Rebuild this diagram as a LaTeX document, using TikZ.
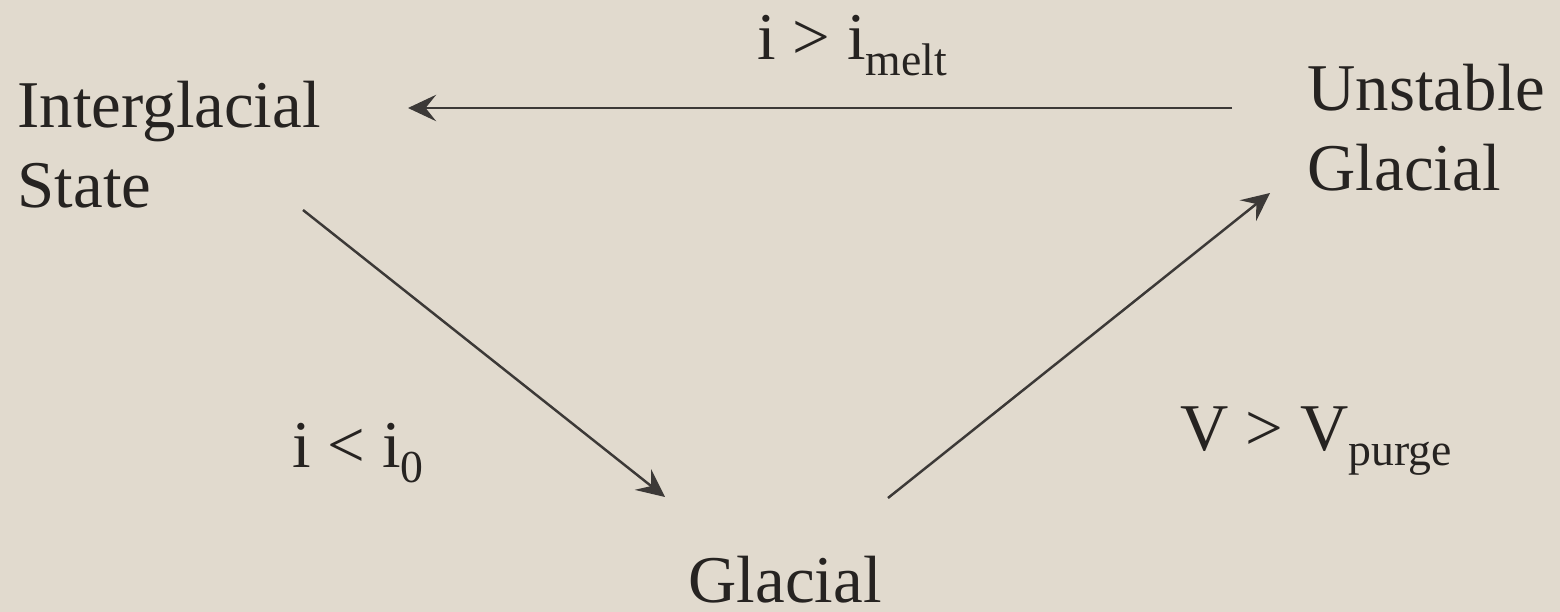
\documentclass[tikz,border=0pt]{standalone}
\usepackage{fontspec}
\setmainfont{Liberation Serif}
\usetikzlibrary{arrows.meta}
\definecolor{Paper}{RGB}{225,218,206}
\definecolor{Ink}{RGB}{38,35,33}
\newcommand{\lowsub}[1]{\raisebox{-4.4pt}{\fontsize{13}{15}\selectfont #1}}

\begin{document}
\begin{tikzpicture}[x=0.01cm, y=-0.01cm,
	state/.style={inner sep=0pt, align=left, font=\fontsize{19}{22.6}\selectfont, text=Ink},
	cond/.style={inner sep=0pt, font=\fontsize{19}{22.6}\selectfont, text=Ink},
	link/.style={draw=Ink!90, line width=0.7pt, -{Stealth[length=8pt, width=7.5pt, inset=3pt]}}]
	\fill[Paper] (0,0) rectangle (1560,612);
	\useasboundingbox (0,0) rectangle (1560,612);
	% states
	\node[state, anchor=base west] (inter) at (17,207) {Interglacial\\State};
	\node[state, anchor=base west] (unst) at (1307,190) {Unstable\\Glacial};
	\node[state, anchor=base west] (glac) at (688,602) {Glacial};
	% arrow ends
	\coordinate (interR) at (408,108);
	\coordinate (unstL) at (1232,108);
	\coordinate (interB) at (303,210);
	\coordinate (glacL) at (665,497);
	\coordinate (glacR) at (888,498);
	\coordinate (unstB) at (1270,193);
	\draw[link] (unstL) -- (interR);
	\draw[link] (interB) -- (glacL);
	\draw[link] (glacR) -- (unstB);
	% conditions
	\node[cond, anchor=base west] (melt) at (757,60) {i > i\lowsub{melt}};
	\node[cond, anchor=base west] (zero) at (292,467) {i < i\lowsub{0}};
	\node[cond, anchor=base west] (purge) at (1180,450) {V > V\lowsub{purge}};
\end{tikzpicture}
\end{document}
